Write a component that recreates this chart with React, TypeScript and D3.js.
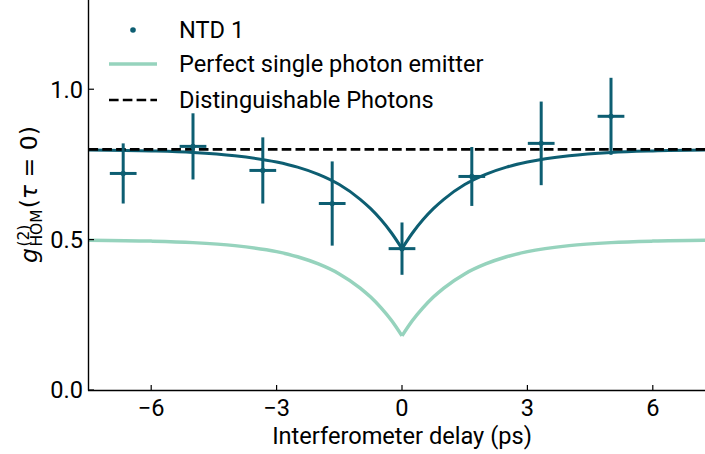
import React, { useEffect, useRef } from "react";
import * as d3 from "d3";

// Measured points (NTD 1)
const delays = [-6.67, -5.0, -3.33, -1.67, 0.0, 1.67, 3.33, 5.0];
const g2Values = [0.72, 0.81, 0.73, 0.62, 0.47, 0.71, 0.82, 0.91];
const g2Errors = [0.1, 0.11, 0.11, 0.14, 0.087, 0.098, 0.139, 0.128];
const delayErrors = [0.32, 0.32, 0.32, 0.32, 0.32, 0.32, 0.32, 0.32];

// Fit curves (right half, symmetric about 0)
const curveDelays = [0, 0.25, 0.5, 0.75, 1, 1.5, 2, 2.5, 3, 4, 5, 6, 7.5];
const fitNTD = [0.47, 0.522, 0.566, 0.603, 0.634, 0.683, 0.717, 0.741, 0.758, 0.779, 0.79, 0.795, 0.798];
const fitPerfect = [0.18, 0.231, 0.273, 0.309, 0.339, 0.386, 0.419, 0.443, 0.46, 0.48, 0.49, 0.495, 0.498];
const distinguishableLevel = 0.8;

const xTicks = [-6, -3, 0, 3, 6];
const yTicks = [0.0, 0.5, 1.0];
const legendLabels = ["NTD 1", "Perfect single photon emitter", "Distinguishable Photons"];

const W = 705;
const H = 454;
const DARK = "#0d5e72";
const LIGHT = "#96d3bd";
const FONT = "Roboto, 'DejaVu Sans', sans-serif";
const MATH = "'DejaVu Sans', sans-serif";
const FS = 23.6;

export default function App() {
  const ref = useRef<SVGSVGElement | null>(null);

  useEffect(() => {
    const svg = d3.select(ref.current);
    svg.selectAll("*").remove();

    const x = d3.scaleLinear().domain([-7.5, 7.5]).range([88.5, 715.5]);
    const y = d3.scaleLinear().domain([0, 1.3]).range([390, -1]);

    const g = svg.append("g");

    const line = d3
      .line<[number, number]>()
      .x((d) => x(d[0]))
      .y((d) => y(d[1]))
      .curve(d3.curveMonotoneX);

    const halves = (vals: number[]) => {
      const right: [number, number][] = curveDelays.map((d, i) => [d, vals[i]]);
      const left: [number, number][] = curveDelays.map((d, i) => [-d, vals[i]] as [number, number]).reverse();
      return [left, right];
    };

    // Perfect single photon emitter curve
    halves(fitPerfect).forEach((pts) => {
      g.append("path").attr("d", line(pts)!).attr("fill", "none").attr("stroke", LIGHT).attr("stroke-width", 3.5);
    });

    // NTD fit
    halves(fitNTD).forEach((pts) => {
      g.append("path").attr("d", line(pts)!).attr("fill", "none").attr("stroke", DARK).attr("stroke-width", 3);
    });

    // Distinguishable photons
    g.append("line")
      .attr("x1", x(-7.5))
      .attr("x2", x(7.5))
      .attr("y1", y(distinguishableLevel))
      .attr("y2", y(distinguishableLevel))
      .attr("stroke", "#000")
      .attr("stroke-width", 2.6)
      .attr("stroke-dasharray", "9.6,4.2");

    // Error bars
    delays.forEach((d, i) => {
      g.append("line")
        .attr("x1", x(d))
        .attr("x2", x(d))
        .attr("y1", y(g2Values[i] - g2Errors[i]))
        .attr("y2", y(g2Values[i] + g2Errors[i]))
        .attr("stroke", DARK)
        .attr("stroke-width", 3);
      g.append("line")
        .attr("x1", x(d - delayErrors[i]))
        .attr("x2", x(d + delayErrors[i]))
        .attr("y1", y(g2Values[i]))
        .attr("y2", y(g2Values[i]))
        .attr("stroke", DARK)
        .attr("stroke-width", 3);
      g.append("circle").attr("cx", x(d)).attr("cy", y(g2Values[i])).attr("r", 2.6).attr("fill", DARK);
    });

    // Spines
    g.append("line").attr("x1", 88.5).attr("x2", 88.5).attr("y1", -2).attr("y2", 390.5).attr("stroke", "#000").attr("stroke-width", 1.4);
    g.append("line").attr("x1", 88).attr("x2", W + 2).attr("y1", 390.5).attr("y2", 390.5).attr("stroke", "#000").attr("stroke-width", 1.4);

    // X ticks
    xTicks.forEach((t) => {
      g.append("line").attr("x1", x(t)).attr("x2", x(t)).attr("y1", 390).attr("y2", 385).attr("stroke", "#000").attr("stroke-width", 1.2);
      g.append("text")
        .attr("x", x(t))
        .attr("y", 415.5)
        .attr("text-anchor", "middle")
        .attr("font-family", FONT)
        .attr("font-size", FS)
        .text(t < 0 ? "\u2212" + Math.abs(t) : String(t));
    });

    // Y ticks
    yTicks.forEach((t) => {
      g.append("line").attr("x1", 89).attr("x2", 94).attr("y1", y(t)).attr("y2", y(t)).attr("stroke", "#000").attr("stroke-width", 1.2);
      g.append("text")
        .attr("x", 83)
        .attr("y", y(t) + 8.4)
        .attr("text-anchor", "end")
        .attr("font-family", FONT)
        .attr("font-size", FS)
        .text(t.toFixed(1));
    });

    // X label
    g.append("text")
      .attr("x", x(0))
      .attr("y", 444)
      .attr("text-anchor", "middle")
      .attr("font-family", FONT)
      .attr("font-size", FS)
      .text("Interferometer delay (ps)");

    // Y label (math)
    const yl = g.append("g");
    const inner = yl.append("g");
    let cx = 0;
    const gT = inner.append("text").attr("x", cx).attr("y", 0).attr("font-family", MATH).attr("font-size", FS).attr("font-style", "italic").text("g");
    cx += (gT.node() as SVGTextElement).getComputedTextLength() + 1.5;
    const sup = inner.append("text").attr("x", cx).attr("y", -8.5).attr("font-family", MATH).attr("font-size", 15.5).text("(2)");
    const sub = inner.append("text").attr("x", cx).attr("y", 5).attr("font-family", MATH).attr("font-size", 15.5).text("HOM");
    cx += Math.max((sup.node() as SVGTextElement).getComputedTextLength(), (sub.node() as SVGTextElement).getComputedTextLength()) + 1;
    const rest = inner.append("text").attr("x", cx).attr("y", 0).attr("font-family", MATH).attr("font-size", FS);
    rest.append("tspan").text("(");
    rest.append("tspan").attr("font-style", "italic").text("\u03c4");
    rest.append("tspan").text(" = 0)");
    cx += (rest.node() as SVGTextElement).getComputedTextLength();
    inner.attr("transform", `translate(${-cx / 2},0)`);
    yl.attr("transform", `translate(37,${y(0.65)}) rotate(-90)`);

    // Legend
    const rows = [30, 64, 100];
    g.append("circle").attr("cx", 133).attr("cy", rows[0]).attr("r", 2.8).attr("fill", DARK);
    g.append("line").attr("x1", 109).attr("x2", 157).attr("y1", rows[1]).attr("y2", rows[1]).attr("stroke", LIGHT).attr("stroke-width", 3.5);
    g.append("line")
      .attr("x1", 109)
      .attr("x2", 157)
      .attr("y1", rows[2])
      .attr("y2", rows[2])
      .attr("stroke", "#000")
      .attr("stroke-width", 2.6)
      .attr("stroke-dasharray", "9.6,4.2");
    legendLabels.forEach((lab, i) => {
      g.append("text")
        .attr("x", 179)
        .attr("y", rows[i] + 8.4)
        .attr("font-family", FONT)
        .attr("font-size", FS)
        .text(lab);
    });
  }, []);

  return (
    <svg
      ref={ref}
      width={W}
      height={H}
      style={{ position: "absolute", left: 0, top: 0, background: "#fff", overflow: "hidden" }}
    />
  );
}
